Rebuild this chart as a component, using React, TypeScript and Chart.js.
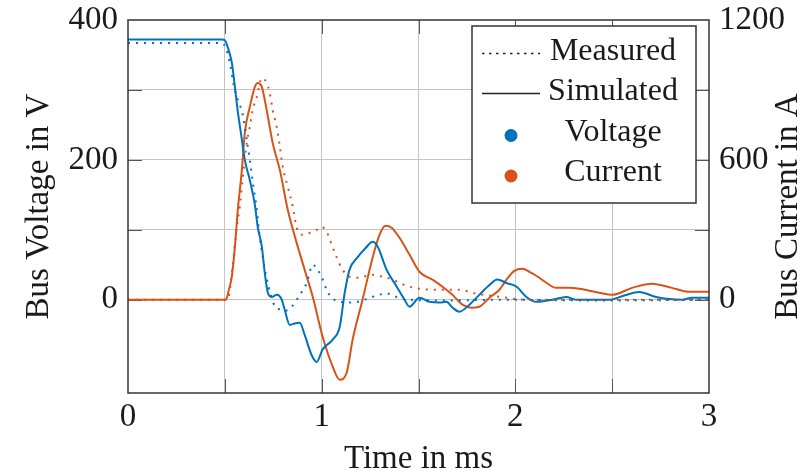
import { useEffect, useRef } from 'react';
import { Chart, registerables } from 'chart.js';

Chart.register(...registerables);

// ---- Data (time in ms) ----
const simVoltageTime = [0, 0.485, 0.5, 0.515, 0.536, 0.552, 0.567, 0.588, 0.603, 0.629, 0.655, 0.67, 0.691, 0.706, 0.722, 0.742, 0.768, 0.794, 0.809, 0.835, 0.861, 0.887, 0.912, 0.948, 0.974, 1.005, 1.057, 1.093, 1.119, 1.144, 1.186, 1.227, 1.263, 1.289, 1.335, 1.387, 1.428, 1.454, 1.505, 1.557, 1.608, 1.644, 1.675, 1.711, 1.763, 1.814, 1.866, 1.907, 1.954, 2.005, 2.057, 2.108, 2.191, 2.263, 2.314, 2.381, 2.485, 2.562, 2.639, 2.727, 2.794, 2.861, 2.912, 3.0];
const simVoltage = [372, 372, 371, 361, 339, 304, 269, 229, 200, 171, 136, 104, 76, 39, 10, 4, 7, 0, -14, -36, -34, -33, -50, -79, -89, -71, -57, -39, 10, 43, 61, 74, 83, 76, 43, 19, 0, -10, 3, -3, -4, -3, -11, -17, -7, 7, 21, 29, 24, 19, 4, -3, 0, 4, 0, 0, 0, 6, 11, 4, 1, 0, 3, 3];

const simCurrentTime = [0, 0.505, 0.521, 0.536, 0.552, 0.567, 0.588, 0.603, 0.629, 0.655, 0.67, 0.691, 0.716, 0.747, 0.784, 0.825, 0.871, 0.923, 0.954, 1.005, 1.057, 1.093, 1.129, 1.16, 1.211, 1.263, 1.299, 1.33, 1.361, 1.402, 1.454, 1.505, 1.572, 1.624, 1.675, 1.727, 1.773, 1.814, 1.866, 1.918, 1.954, 1.995, 2.036, 2.072, 2.108, 2.16, 2.211, 2.278, 2.33, 2.433, 2.5, 2.603, 2.706, 2.809, 2.897, 3.0];
const simCurrent = [0, 0, 43, 99, 227, 386, 557, 716, 827, 913, 930, 913, 814, 673, 557, 386, 244, 99, 13, -159, -287, -343, -313, -171, 0, 180, 279, 317, 309, 266, 193, 120, 86, 56, 21, -21, -34, -30, 9, 43, 86, 124, 133, 120, 103, 73, 51, 51, 47, 30, 21, 51, 69, 51, 34, 34];

const measVoltageTime = [0, 0.485, 0.505, 0.526, 0.541, 0.562, 0.577, 0.593, 0.613, 0.629, 0.644, 0.665, 0.68, 0.696, 0.716, 0.737, 0.758, 0.784, 0.809, 0.845, 0.887, 0.923, 0.954, 0.979, 1.005, 1.026, 1.052, 1.093, 1.16, 1.222, 1.284, 1.335, 1.387, 1.454, 1.66, 1.918, 2.433, 3.0];
const measVoltage = [367, 367, 360, 339, 314, 290, 279, 264, 229, 200, 169, 129, 90, 61, 31, 7, -9, -14, -16, -10, 7, 24, 50, 43, 29, 14, 3, -3, -4, 0, 6, 9, 4, 0, -1, 0, -1, 0];

const measCurrentTime = [0, 0.515, 0.541, 0.562, 0.577, 0.593, 0.613, 0.629, 0.644, 0.665, 0.691, 0.716, 0.732, 0.747, 0.768, 0.784, 0.799, 0.825, 0.851, 0.871, 0.902, 0.938, 0.974, 1.0, 1.026, 1.046, 1.072, 1.108, 1.144, 1.186, 1.263, 1.314, 1.366, 1.438, 1.505, 1.608, 1.711, 1.799, 1.918, 2.057, 3.0];
const measCurrent = [0, 0, 150, 313, 399, 527, 673, 741, 814, 870, 951, 930, 887, 814, 741, 656, 570, 484, 399, 309, 279, 287, 300, 313, 291, 249, 193, 129, 99, 94, 107, 99, 86, 60, 47, 43, 43, 26, 13, 0, 0];

// ---- Ticks ----
const xTicks = [0, 0.5, 1, 1.5, 2, 2.5, 3];
const xTickLabels = ['0', '', '1', '', '2', '', '3'];
const leftTicks = [0, 100, 200, 300, 400];
const leftTickLabels = ['0', '', '200', '', '400'];
const rightTicks = [0, 300, 600, 900, 1200];
const rightTickLabels = ['0', '', '600', '', '1200'];

const legendLabels = ['Measured', 'Simulated', 'Voltage', 'Current'];
const xTitle = 'Time in ms';
const leftTitle = 'Bus Voltage in V';
const rightTitle = 'Bus Current in A';

const BLUE = '#0072BD';
const ORANGE = '#D95319';
const FONT = "'Liberation Serif', 'Times New Roman', serif";
const TEXT = '#1a1a1a';
const GRID = '#c4c4c4';
const TICK = '#555555';

const toXY = (t: number[], v: number[]) => t.map((x, i) => ({ x, y: v[i] }));

const decorPlugin = {
  id: 'decor',
  beforeDatasetsDraw(chart: any) {
    const { ctx, chartArea: a, scales } = chart;
    ctx.save();
    ctx.strokeStyle = TICK;
    ctx.lineWidth = 1;
    const L = 14;
    ctx.beginPath();
    xTicks.forEach((v) => {
      if (v === 0 || v === 3) return;
      const px = Math.round(scales.x.getPixelForValue(v)) + 0.5;
      ctx.moveTo(px, a.bottom); ctx.lineTo(px, a.bottom - L);
      ctx.moveTo(px, a.top); ctx.lineTo(px, a.top + L);
    });
    leftTicks.forEach((v) => {
      if (v === 400) return;
      const py = Math.round(scales.y.getPixelForValue(v)) + 0.5;
      ctx.moveTo(a.left, py); ctx.lineTo(a.left + L, py);
    });
    rightTicks.forEach((v) => {
      if (v === 1200) return;
      const py = Math.round(scales.y1.getPixelForValue(v)) + 0.5;
      ctx.moveTo(a.right, py); ctx.lineTo(a.right - L, py);
    });
    ctx.stroke();
    ctx.restore();
  },
  afterDatasetsDraw(chart: any) {
    const { ctx, chartArea: a } = chart;
    ctx.save();
    ctx.strokeStyle = '#333333';
    ctx.lineWidth = 1.5;
    ctx.strokeRect(a.left, a.top, a.right - a.left, a.bottom - a.top);
    ctx.restore();
  },
  afterDraw(chart: any) {
    const { ctx, chartArea: a } = chart;
    ctx.save();
    ctx.font = `33px ${FONT}`;
    ctx.fillStyle = TEXT;
    ctx.textAlign = 'center';
    ctx.textBaseline = 'middle';
    ctx.translate(chart.width - 16, (a.top + a.bottom) / 2);
    ctx.rotate(-Math.PI / 2);
    ctx.fillText(rightTitle, 0, 0);
    ctx.restore();

    ctx.save();
    const w = 224, h = 177;
    const bx = a.right - 13 - w;
    const by = a.top + 6;
    ctx.fillStyle = '#ffffff';
    ctx.fillRect(bx, by, w, h);
    ctx.strokeStyle = '#333333';
    ctx.lineWidth = 1.5;
    ctx.strokeRect(bx, by, w, h);
    const rows = [26, 66, 106.5, 147];
    ctx.font = `32px ${FONT}`;
    ctx.textAlign = 'center';
    ctx.textBaseline = 'middle';
    legendLabels.forEach((lab, i) => {
      const y = by + rows[i];
      ctx.fillStyle = TEXT;
      ctx.fillText(lab, bx + 141, y);
      if (i < 2) {
        ctx.beginPath();
        ctx.strokeStyle = '#222222';
        ctx.lineWidth = 1.5;
        ctx.setLineDash(i === 0 ? [2.5, 4.5] : []);
        ctx.moveTo(bx + 10, y + 1.5);
        ctx.lineTo(bx + 68, y + 1.5);
        ctx.stroke();
        ctx.setLineDash([]);
      } else {
        ctx.beginPath();
        ctx.fillStyle = i === 2 ? BLUE : ORANGE;
        ctx.arc(bx + 39, y + 3, 6.5, 0, Math.PI * 2);
        ctx.fill();
      }
    });
    ctx.restore();
  },
};

const noVPad = (s: any, width: number) => {
  s.width = width;
  s.paddingTop = 0;
  s.paddingBottom = 0;
};

export default function App() {
  const ref = useRef<HTMLCanvasElement | null>(null);
  useEffect(() => {
    if (!ref.current) return;
    const tickFont = { family: FONT, size: 33 };
    const chart = new Chart(ref.current, {
      type: 'line',
      data: {
        datasets: [
          {
            label: 'Measured Voltage',
            data: toXY(measVoltageTime, measVoltage),
            borderColor: BLUE, borderWidth: 2, borderDash: [2, 6], pointRadius: 0,
            cubicInterpolationMode: 'monotone', yAxisID: 'y',
          },
          {
            label: 'Measured Current',
            data: toXY(measCurrentTime, measCurrent),
            borderColor: ORANGE, borderWidth: 2, borderDash: [2, 6], pointRadius: 0,
            cubicInterpolationMode: 'monotone', yAxisID: 'y1',
          },
          {
            label: 'Simulated Voltage',
            data: toXY(simVoltageTime, simVoltage),
            borderColor: BLUE, borderWidth: 2, pointRadius: 0,
            cubicInterpolationMode: 'monotone', yAxisID: 'y',
          },
          {
            label: 'Simulated Current',
            data: toXY(simCurrentTime, simCurrent),
            borderColor: ORANGE, borderWidth: 2, pointRadius: 0,
            cubicInterpolationMode: 'monotone', yAxisID: 'y1',
          },
        ],
      } as any,
      options: {
        responsive: false,
        animation: false,
        layout: { padding: { top: 20, left: 0, right: 0, bottom: 0 } },
        plugins: { legend: { display: false }, tooltip: { enabled: false } },
        scales: {
          x: {
            type: 'linear', position: 'bottom', min: 0, max: 3,
            afterBuildTicks: (s: any) => { s.ticks = xTicks.map((v) => ({ value: v })); },
            afterFit: (s: any) => { s.height = 83; s.paddingLeft = 0; s.paddingRight = 0; },
            ticks: {
              font: tickFont, color: TEXT, padding: 5, maxRotation: 0, autoSkip: false,
              callback: (v: any) => xTickLabels[xTicks.indexOf(Number(v))] ?? '',
            },
            grid: {
              drawTicks: false,
              color: (c: any) => (c.tick && (c.tick.value === 0 || c.tick.value === 3) ? 'rgba(0,0,0,0)' : GRID),
            },
            border: { display: false },
            title: { display: true, text: xTitle, color: TEXT, font: { family: FONT, size: 33, lineHeight: 1 }, padding: 0 },
          },
          y: {
            type: 'linear', position: 'left', min: -400 / 3, max: 400,
            afterBuildTicks: (s: any) => { s.ticks = leftTicks.map((v) => ({ value: v })); },
            afterFit: (s: any) => noVPad(s, 128),
            ticks: {
              font: tickFont, color: TEXT, padding: 10, autoSkip: false,
              callback: (v: any) => leftTickLabels[leftTicks.indexOf(Number(v))] ?? '',
            },
            grid: {
              drawTicks: false,
              color: (c: any) => (c.tick && c.tick.value === 400 ? 'rgba(0,0,0,0)' : GRID),
            },
            border: { display: false },
            title: { display: true, text: leftTitle, color: TEXT, font: { family: FONT, size: 33, lineHeight: 1 }, padding: { top: 23, bottom: 0 } },
          },
          y1: {
            type: 'linear', position: 'right', min: -400, max: 1200,
            afterBuildTicks: (s: any) => { s.ticks = rightTicks.map((v) => ({ value: v })); },
            afterFit: (s: any) => noVPad(s, 95),
            ticks: {
              font: tickFont, color: TEXT, padding: 10, autoSkip: false,
              callback: (v: any) => rightTickLabels[rightTicks.indexOf(Number(v))] ?? '',
            },
            grid: { drawOnChartArea: false, drawTicks: false },
            border: { display: false },
          },
        },
      } as any,
      plugins: [decorPlugin],
    });
    return () => chart.destroy();
  }, []);

  return (
    <div style={{ position: 'fixed', left: 0, top: 0, width: 804, height: 476, background: '#fff' }}>
      <canvas ref={ref} width={804} height={476} style={{ display: 'block' }} />
    </div>
  );
}
